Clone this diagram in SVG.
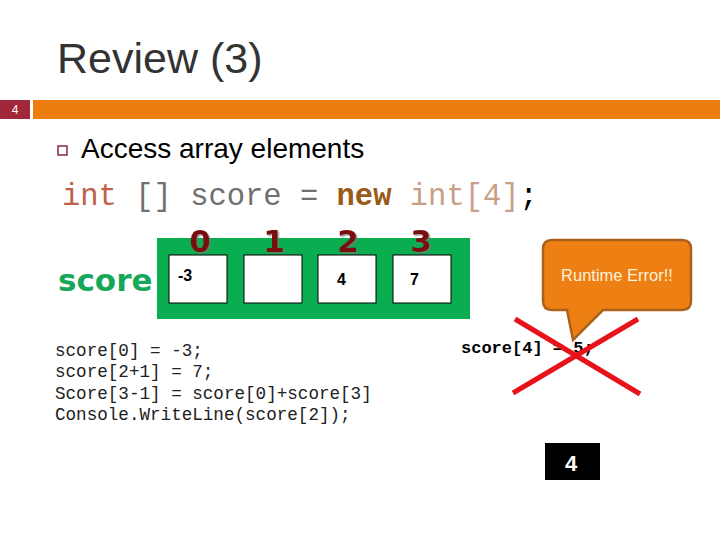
<svg xmlns="http://www.w3.org/2000/svg" width="720" height="540" viewBox="0 0 720 540">
<defs>
<style>
.sans{font-family:"Liberation Sans",Arial,sans-serif}
.mono{font-family:"Liberation Mono","Courier New",monospace}
.cell{fill:#ffffff;stroke:#000000;stroke-width:1}
.val{font-family:"Liberation Sans",Arial,sans-serif;font-weight:bold;font-size:16px;fill:#000}
.idx{font-family:"DejaVu Sans",Verdana,sans-serif;font-weight:bold;font-size:31px;fill:#7a0c0c;text-anchor:middle}
.code{font-family:"Liberation Mono","Courier New",monospace;font-size:17.6px;fill:#222}
.cross{stroke:#e8131a;stroke-width:5;stroke-linecap:butt}
</style>
<filter id="sh" x="-20%" y="-20%" width="140%" height="140%">
<feDropShadow dx="1.5" dy="1.5" stdDeviation="0.6" flood-color="#777" flood-opacity="0.7"/>
</filter>
</defs>
<rect width="720" height="540" fill="#ffffff"/>
<g id="title">
<text x="57" y="73" class="sans" font-size="43" fill="#333333">Review (3)</text>
</g>
<g id="header-bar">
<rect x="0" y="100" width="30" height="19" fill="#a0283a"/>
<text x="15" y="114" class="sans" font-size="12" fill="#ffffff" text-anchor="middle">4</text>
<rect x="33" y="100" width="687" height="19" fill="#ed7d0f"/>
</g>
<g id="bullet">
<rect x="58" y="146" width="9" height="9" fill="none" stroke="#8b2a3c" stroke-width="1.5"/>
<text x="81" y="158" class="sans" font-size="28" fill="#000">Access array elements</text>
</g>
<g id="declaration">
<text x="62" y="205" class="mono" font-size="30.5"><tspan fill="#bf6048">int</tspan><tspan fill="#707070"> [] score = </tspan><tspan fill="#9a5a18" font-weight="bold">new</tspan><tspan fill="#c8a088"> int[4]</tspan><tspan fill="#000">;</tspan></text>
</g>
<g id="array">
<text x="58" y="291" font-family="'DejaVu Sans',Verdana,sans-serif" font-weight="bold" font-size="31" fill="#16a85a">score</text>
<rect x="157" y="238" width="313" height="81" fill="#0aad50"/>
<rect class="cell" x="169" y="255" width="58" height="48"/>
<rect class="cell" x="244" y="255" width="58" height="48"/>
<rect class="cell" x="318" y="255" width="58" height="48"/>
<rect class="cell" x="393" y="255" width="58" height="48"/>
<text class="val" x="178" y="281">-3</text>
<text class="val" x="337" y="285">4</text>
<text class="val" x="410" y="285">7</text>
<g filter="url(#sh)">
<text class="idx" x="200" y="252">0</text>
<text class="idx" x="274" y="252">1</text>
<text class="idx" x="348" y="252">2</text>
<text class="idx" x="421" y="252">3</text>
</g>
</g>
<g id="code">
<text class="code" x="55" y="356">score[0] = -3;</text>
<text class="code" x="55" y="377">score[2+1] = 7;</text>
<text class="code" x="55" y="399">Score[3-1] = score[0]+score[3]</text>
<text class="code" x="55" y="420">Console.WriteLine(score[2]);</text>
</g>
<g id="invalid">
<text x="461" y="353" class="mono" font-size="17" font-weight="bold" fill="#000">score[4] = 5;</text>
</g>
<g id="callout">
<path d="M552,240 H682 Q691,240 691,249 V301 Q691,310 682,310 H603 L573,340 L567,310 H552 Q543,310 543,301 V249 Q543,240 552,240 Z" fill="#ee7f12" stroke="#a8621c" stroke-width="2.5"/>
<text x="617" y="281" class="sans" font-size="16.5" fill="#fdf2dc" text-anchor="middle">Runtime Error!!</text>
</g>
<g id="cross">
<line class="cross" x1="515" y1="319" x2="640" y2="394"/>
<line class="cross" x1="638" y1="319" x2="513" y2="393"/>
</g>
<g id="output">
<rect x="545" y="443" width="55" height="37" fill="#000"/>
<text x="571" y="471" class="sans" font-size="22" font-weight="bold" fill="#fff" text-anchor="middle">4</text>
</g>
</svg>
